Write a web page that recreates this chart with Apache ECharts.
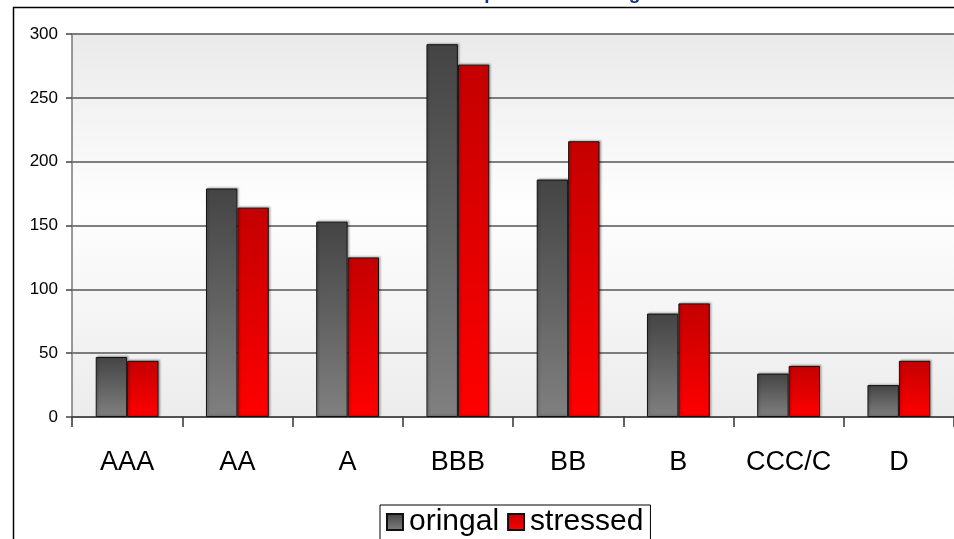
<!DOCTYPE html>
<html>
<head>
<meta charset="utf-8">
<script src="https://cdn.jsdelivr.net/npm/echarts@6/dist/echarts.min.js"></script>
<style>
  html, body { margin: 0; padding: 0; background: #fff; }
  #chart { width: 954px; height: 539px; }
</style>
</head>
<body>
<div id="chart"></div>
<script>
// Rating grades and exposure counts, base case vs stress scenario
var categories = ['AAA', 'AA', 'A', 'BBB', 'BB', 'B', 'CCC/C', 'D'];
var original = [47, 179, 153, 292, 186, 81, 34, 25];
var stressed = [44, 164, 125, 276, 216, 89, 40, 44];
var yTicks = { min: 0, max: 300, step: 50 };
var titleText = 'Comparison of Rating Distribution';

var FONT = '"Liberation Sans", Arial, sans-serif';

function vGrad(top, bottom) {
  return new echarts.graphic.LinearGradient(0, 0, 0, 1, [
    { offset: 0, color: top },
    { offset: 1, color: bottom }
  ]);
}

var chart = echarts.init(document.getElementById('chart'), null, { renderer: 'canvas' });

var barStyle = function (top, bottom) {
  return {
    color: vGrad(top, bottom),
    borderColor: '#111',
    borderWidth: 1,
    shadowColor: 'rgba(0,0,0,0.25)',
    shadowBlur: 2,
    shadowOffsetX: 1.5,
    shadowOffsetY: -1
  };
};

chart.setOption({
  animation: false,
  backgroundColor: '#ffffff',
  graphic: [
    {
      type: 'rect',
      x: 13.5, y: 7.5,
      shape: { x: 0, y: 0, width: 1000, height: 600 },
      style: { fill: 'none', stroke: '#000', lineWidth: 1.5 },
      z: -1
    },
    {
      type: 'text',
      x: 442, y: 3,
      style: {
        text: titleText,
        font: 'bold 19px ' + FONT,
        fill: '#12308a',
        textVerticalAlign: 'bottom'
      }
    }
  ],
  grid: {
    left: 72, top: 34, right: -10, height: 383,
    show: true,
    borderWidth: 0,
    backgroundColor: new echarts.graphic.LinearGradient(0, 0, 0, 1, [
      { offset: 0, color: '#eaeaea' },
      { offset: 0.45, color: '#fefefe' },
      { offset: 1, color: '#ececec' }
    ])
  },
  legend: {
    left: 380, top: 505,
    padding: [2, 7, 30, 6],
    itemGap: 8,
    itemWidth: 16, itemHeight: 16,
    icon: 'rect',
    borderColor: '#000', borderWidth: 1,
    backgroundColor: '#fff',
    textStyle: { fontFamily: FONT, fontSize: 30, color: '#000', padding: [0, 0, 0, 1] },
    data: ['oringal', 'stressed']
  },
  xAxis: {
    type: 'category',
    data: categories,
    boundaryGap: true,
    axisLine: { lineStyle: { color: '#444', width: 1.5 } },
    axisTick: { show: true, interval: 0, alignWithLabel: false, length: 10, lineStyle: { color: '#333', width: 1.5 } },
    axisLabel: { interval: 0, fontFamily: FONT, fontSize: 27, color: '#000', margin: 32 }
  },
  yAxis: {
    type: 'value',
    min: yTicks.min, max: yTicks.max, interval: yTicks.step,
    axisLine: { show: true, lineStyle: { color: '#777', width: 1.5 } },
    axisTick: { show: true, length: 6, lineStyle: { color: '#444', width: 1.5 } },
    axisLabel: { fontFamily: FONT, fontSize: 17, color: '#000', margin: 14 },
    splitLine: { show: true, lineStyle: { color: '#555', width: 1.5 } }
  },
  series: [
    {
      name: 'oringal', type: 'bar',
      data: original,
      barGap: '0%', barCategoryGap: '43%',
      itemStyle: barStyle('#444444', '#808080')
    },
    {
      name: 'stressed', type: 'bar',
      data: stressed,
      barGap: '0%', barCategoryGap: '43%',
      itemStyle: barStyle('#c40000', '#ff0000')
    }
  ]
});
</script>
</body>
</html>
